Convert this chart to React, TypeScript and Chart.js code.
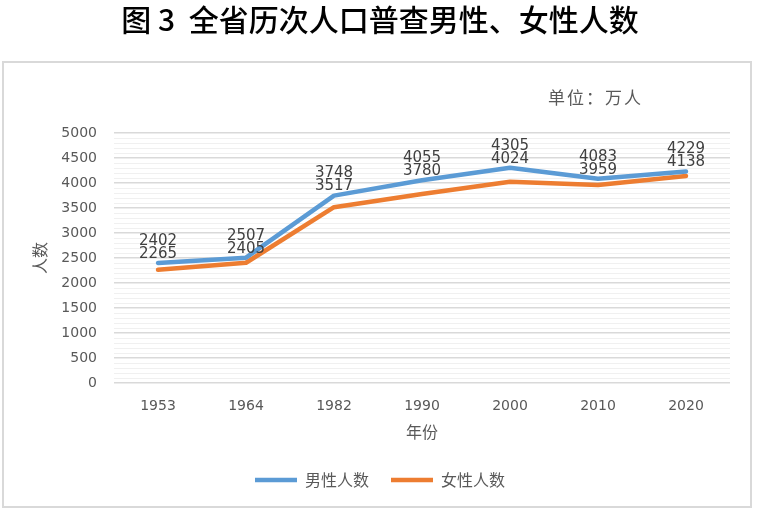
import React, { useEffect, useRef } from 'react';
import { Chart, registerables } from 'chart.js';

Chart.register(...registerables);

const titleText = '图 3  全省历次人口普查男性、女性人数';
const unitText = '单位：万人';
const xTitle = '年份';
const yTitle = '人数';
const years = ['1953', '1964', '1982', '1990', '2000', '2010', '2020'];
const maleLabel = '男性人数';
const femaleLabel = '女性人数';
const maleValues = [2402, 2507, 3748, 4055, 4305, 4083, 4229];
const femaleValues = [2265, 2405, 3517, 3780, 4024, 3959, 4138];
const yMin = 0;
const yMax = 5000;
const yMajorStep = 500;
const yMinorStep = 100;

const CJK = '"Noto Sans CJK SC", "Noto Sans", sans-serif';
const NUM = '"DejaVu Sans", sans-serif';
const GREY_TEXT = '#595959';

const framePlugin = {
  id: 'frameAndUnit',
  beforeDraw(chart: any) {
    const ctx = chart.ctx;
    ctx.save();
    ctx.fillStyle = '#ffffff';
    ctx.fillRect(0, 0, chart.width, chart.height);
    ctx.strokeStyle = '#d9d9d9';
    ctx.lineWidth = 2;
    ctx.strokeRect(3, 62, 748, 445);
    ctx.fillStyle = GREY_TEXT;
    ctx.font = `17px ${CJK}`;
    (ctx as any).letterSpacing = '2px';
    ctx.textAlign = 'left';
    ctx.textBaseline = 'middle';
    const area = chart.chartArea;
    ctx.fillText(unitText, area.right - 182, area.top - 35);
    (ctx as any).letterSpacing = '0px';
    ctx.restore();
  },
};

const labelPlugin = {
  id: 'pointLabels',
  afterDatasetsDraw(chart: any) {
    const ctx = chart.ctx;
    const male = chart.getDatasetMeta(0).data;
    const ds0 = chart.data.datasets[0].data;
    const ds1 = chart.data.datasets[1].data;
    ctx.save();
    ctx.fillStyle = '#404040';
    ctx.font = `15px ${NUM}`;
    ctx.textAlign = 'center';
    ctx.textBaseline = 'middle';
    male.forEach((pt: any, i: number) => {
      ctx.fillText(String(ds0[i]), pt.x, pt.y - 22);
      ctx.fillText(String(ds1[i]), pt.x, pt.y - 9);
    });
    ctx.restore();
  },
};

export default function App() {
  const ref = useRef<HTMLCanvasElement | null>(null);

  useEffect(() => {
    if (!ref.current) return;
    const chart = new Chart(ref.current, {
      type: 'line',
      data: {
        labels: years,
        datasets: [
          {
            label: maleLabel,
            data: maleValues,
            borderColor: '#5b9bd5',
            backgroundColor: '#5b9bd5',
            borderWidth: 4.5,
            pointRadius: 0,
            pointHoverRadius: 0,
            tension: 0,
            borderJoinStyle: 'round',
            borderCapStyle: 'round',
          },
          {
            label: femaleLabel,
            data: femaleValues,
            borderColor: '#ed7d31',
            backgroundColor: '#ed7d31',
            borderWidth: 4.5,
            pointRadius: 0,
            pointHoverRadius: 0,
            tension: 0,
            borderJoinStyle: 'round',
            borderCapStyle: 'round',
          },
        ],
      },
      options: {
        animation: false,
        responsive: true,
        maintainAspectRatio: false,
        devicePixelRatio: 1,
        layout: { padding: { left: 30, right: 27, top: 0, bottom: 16 } },
        plugins: {
          title: {
            display: true,
            text: titleText,
            color: '#000000',
            font: { family: CJK, size: 30, weight: '500' as any },
            padding: { top: 2, bottom: 95 },
          },
          legend: {
            position: 'bottom',
            labels: {
              usePointStyle: true,
              pointStyle: 'line',
              pointStyleWidth: 42,
              boxHeight: 16,
              color: GREY_TEXT,
              font: { family: CJK, size: 16 },
              padding: 22,
            },
          },
          tooltip: { enabled: false },
        },
        scales: {
          x: {
            offset: true,
            grid: { display: false, drawTicks: false },
            border: { display: false },
            ticks: { color: GREY_TEXT, font: { family: NUM, size: 14 }, padding: 15 },
            title: {
              display: true,
              text: xTitle,
              color: GREY_TEXT,
              font: { family: CJK, size: 16 },
              padding: { top: 0, bottom: 8 },
            },
            afterFit: (scale: any) => {
              scale.height = 67;
            },
          },
          y: {
            min: yMin,
            max: yMax,
            border: { display: false },
            grid: {
              drawTicks: false,
              color: (c: any) => (c.tick && c.tick.value % yMajorStep === 0 ? '#d9d9d9' : '#f0f0f0'),
              lineWidth: (c: any) => (c.tick && c.tick.value % yMajorStep === 0 ? 1.5 : 1),
            },
            ticks: {
              stepSize: yMinorStep,
              autoSkip: false,
              maxTicksLimit: 1000,
              color: GREY_TEXT,
              font: { family: NUM, size: 14 },
              padding: 17,
              callback: (v: any) => (Number(v) % yMajorStep === 0 ? String(v) : ''),
            },
            title: {
              display: true,
              text: yTitle,
              color: GREY_TEXT,
              font: { family: CJK, size: 16 },
              padding: { top: 0, bottom: 0 },
            },
            afterFit: (scale: any) => {
              scale.width = 84;
            },
          },
        },
      },
      plugins: [framePlugin, labelPlugin],
    });
    return () => chart.destroy();
  }, []);

  return (
    <div style={{ position: 'absolute', left: 0, top: 0, width: 757, height: 514, background: '#fff' }}>
      <canvas ref={ref} />
    </div>
  );
}
